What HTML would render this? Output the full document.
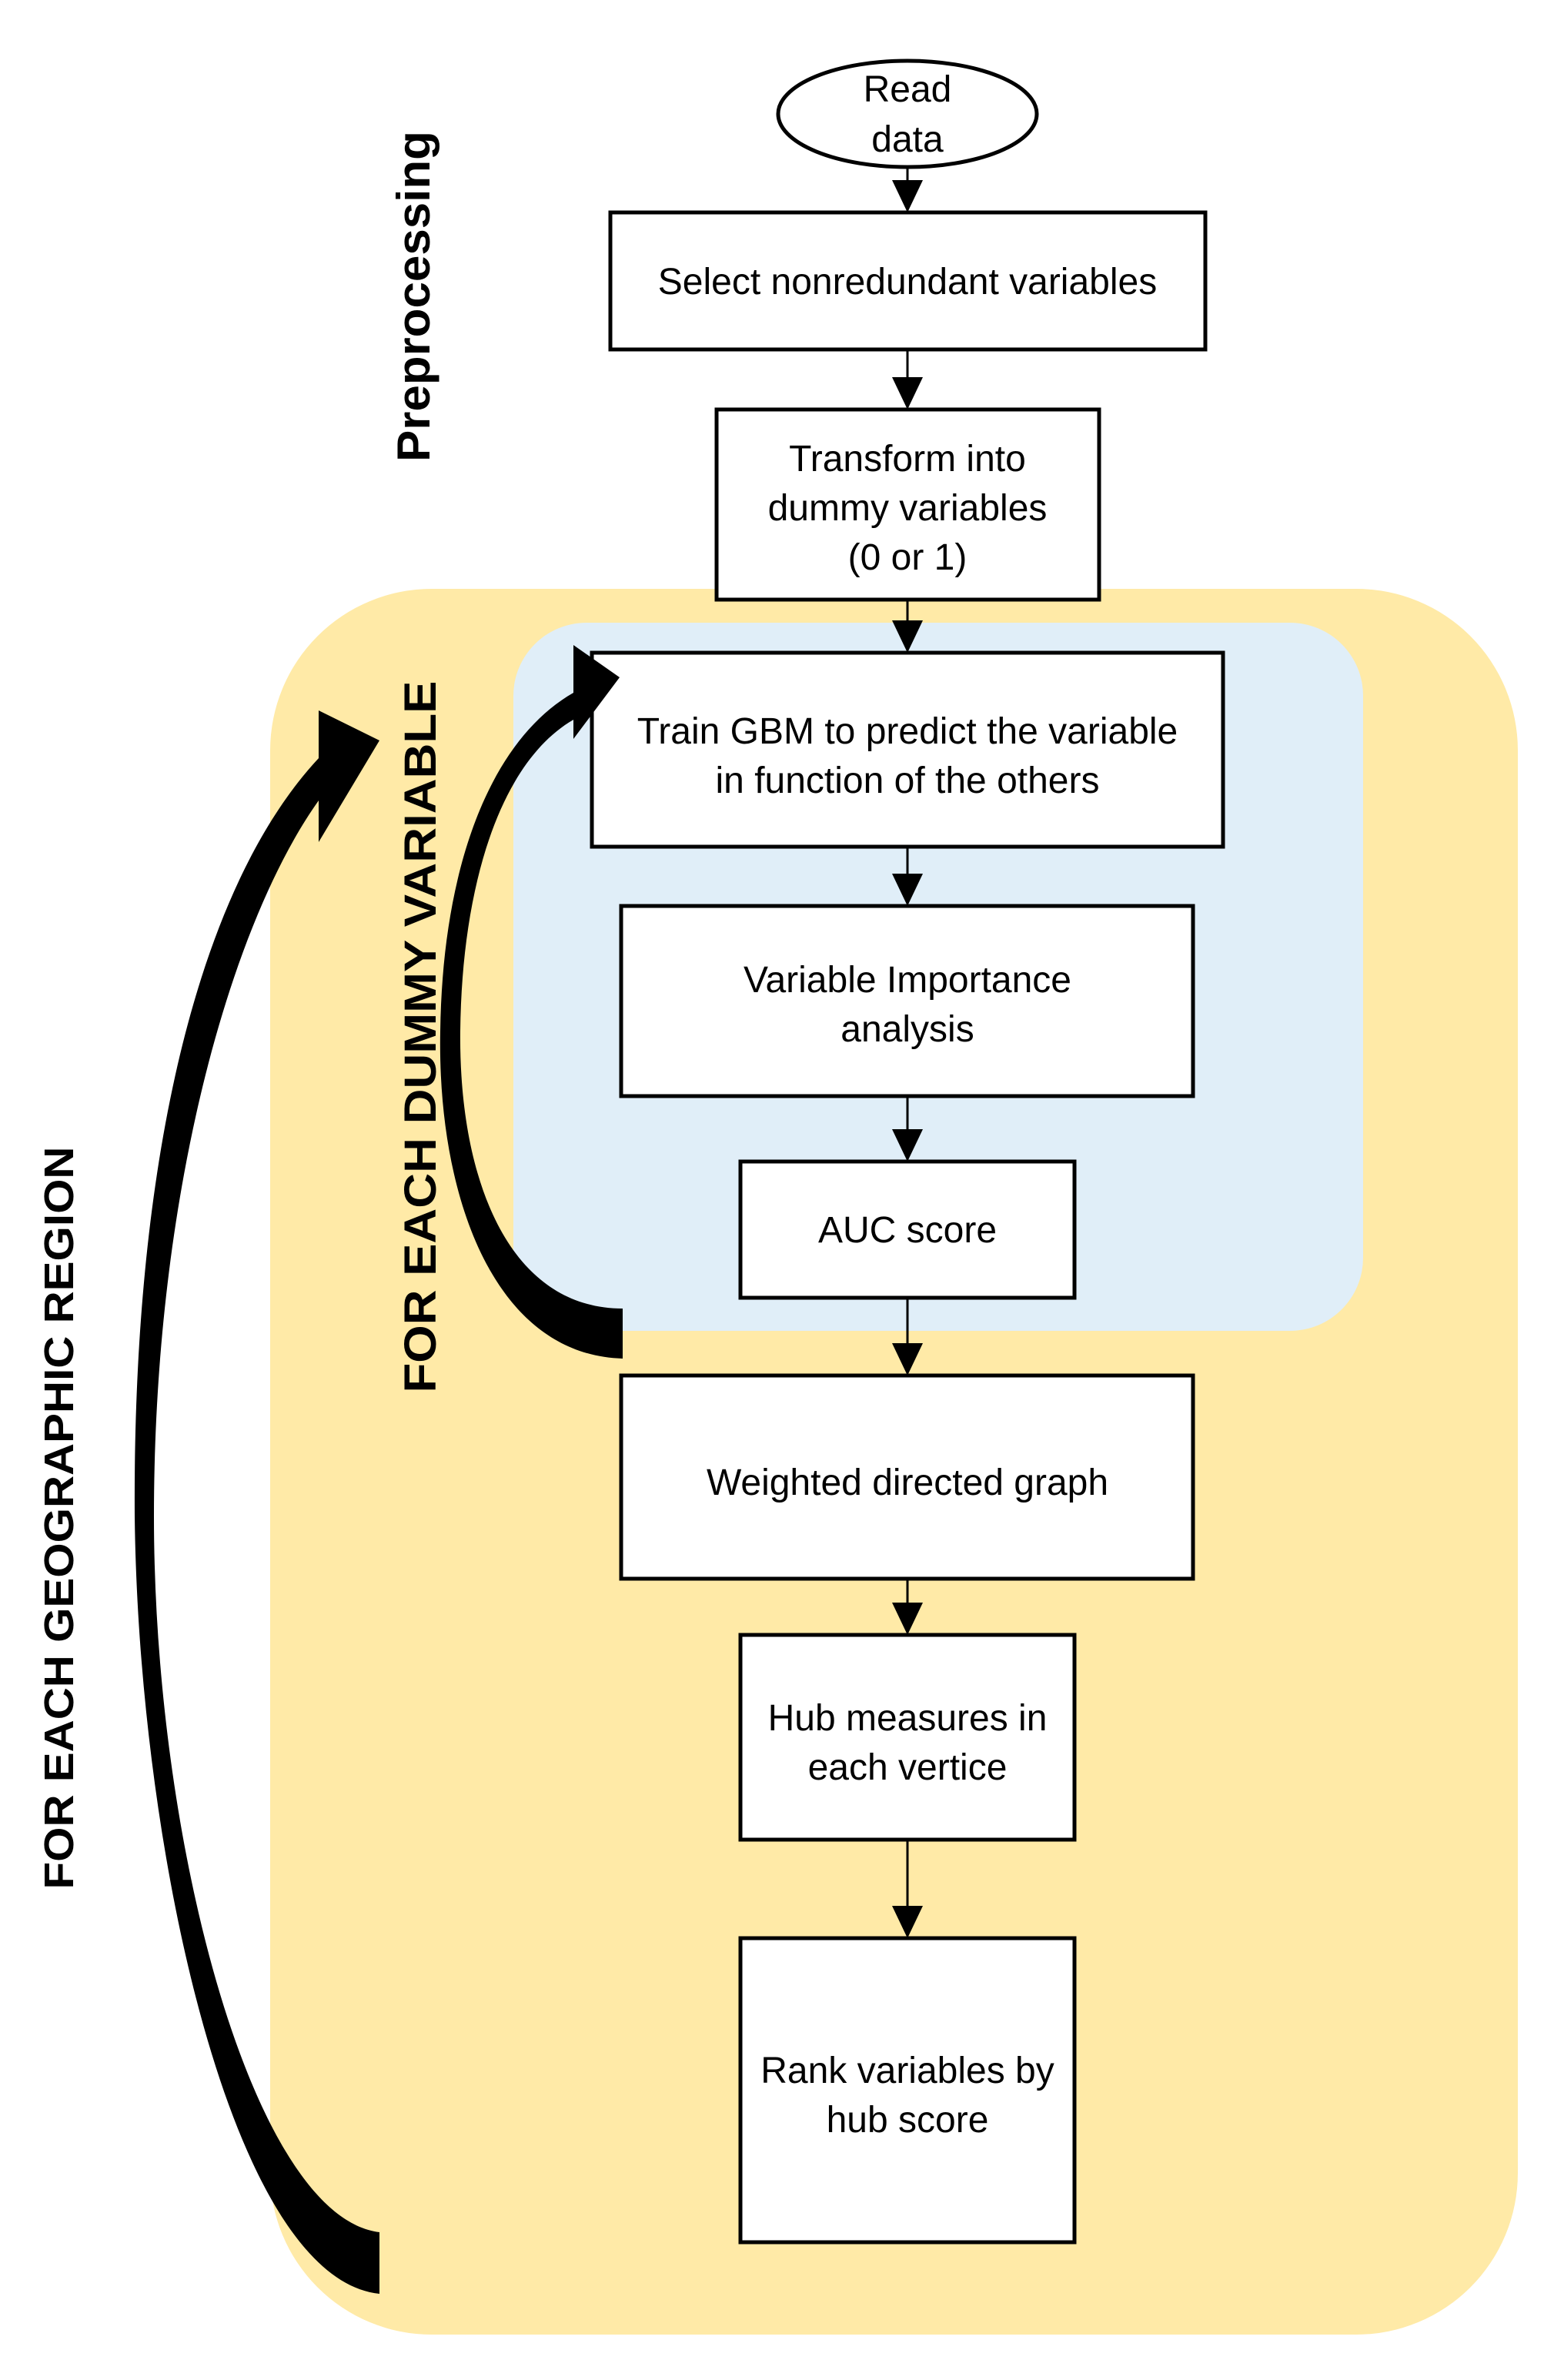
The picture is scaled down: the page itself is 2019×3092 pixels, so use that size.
<!DOCTYPE html>
<html><head><meta charset="utf-8"><style>
html,body{margin:0;padding:0;background:#fff;}
svg{display:block;}
text{font-family:"Liberation Sans",sans-serif;}
</style></head><body>
<svg width="2019" height="3092" viewBox="0 0 2019 3092" xmlns="http://www.w3.org/2000/svg">
<!-- yellow region -->
<rect x="351" y="765" width="1621" height="2268" rx="210" ry="210" fill="#ffeaa7"/>
<!-- blue region -->
<rect x="667" y="809" width="1104" height="920" rx="95" ry="95" fill="#e0eef8"/>

<!-- connectors -->
<g stroke="#000" stroke-width="3" fill="#000">
<line x1="1179" y1="217" x2="1179" y2="240"/><polygon points="1159,234 1199,234 1179,276" stroke="none"/>
<line x1="1179" y1="454" x2="1179" y2="496"/><polygon points="1159,490 1199,490 1179,532" stroke="none"/>
<line x1="1179" y1="779" x2="1179" y2="812"/><polygon points="1159,806 1199,806 1179,848" stroke="none"/>
<line x1="1179" y1="1100" x2="1179" y2="1141"/><polygon points="1159,1135 1199,1135 1179,1177" stroke="none"/>
<line x1="1179" y1="1424" x2="1179" y2="1473"/><polygon points="1159,1467 1199,1467 1179,1509" stroke="none"/>
<line x1="1179" y1="1686" x2="1179" y2="1751"/><polygon points="1159,1745 1199,1745 1179,1787" stroke="none"/>
<line x1="1179" y1="2051" x2="1179" y2="2088"/><polygon points="1159,2082 1199,2082 1179,2124" stroke="none"/>
<line x1="1179" y1="2390" x2="1179" y2="2482"/><polygon points="1159,2476 1199,2476 1179,2518" stroke="none"/>
</g>

<!-- nodes -->
<g stroke="#000" stroke-width="5" fill="#fff">
<ellipse cx="1179" cy="148" rx="168" ry="69"/>
<rect x="793" y="276" width="773" height="178"/>
<rect x="931" y="532" width="497" height="247"/>
<rect x="769" y="848" width="820" height="252"/>
<rect x="807" y="1177" width="743" height="247"/>
<rect x="962" y="1509" width="434" height="177"/>
<rect x="807" y="1787" width="743" height="264"/>
<rect x="962" y="2124" width="434" height="266"/>
<rect x="962" y="2518" width="434" height="395"/>
</g>

<g font-size="48" text-anchor="middle" fill="#000">
<text x="1179" y="132">Read</text>
<text x="1179" y="197">data</text>
<text x="1179" y="382">Select nonredundant variables</text>
<text x="1179" y="612">Transform into</text>
<text x="1179" y="676">dummy variables</text>
<text x="1179" y="740">(0 or 1)</text>
<text x="1179" y="966">Train GBM to predict the variable</text>
<text x="1179" y="1030">in function of the others</text>
<text x="1179" y="1289">Variable Importance</text>
<text x="1179" y="1353">analysis</text>
<text x="1179" y="1614">AUC score</text>
<text x="1179" y="1942">Weighted directed graph</text>
<text x="1179" y="2248">Hub measures in</text>
<text x="1179" y="2312">each vertice</text>
<text x="1179" y="2706">Rank variables by</text>
<text x="1179" y="2770">hub score</text>
</g>

<!-- rotated labels -->
<text transform="translate(558,385) rotate(-90)" font-size="60" font-weight="bold" text-anchor="middle" textLength="430" lengthAdjust="spacingAndGlyphs">Preprocessing</text>
<text transform="translate(566,1347) rotate(-90)" font-size="58" font-weight="bold" text-anchor="middle" textLength="925" lengthAdjust="spacingAndGlyphs">FOR EACH DUMMY VARIABLE</text>
<text transform="translate(95,1972) rotate(-90)" font-size="54" font-weight="bold" text-anchor="middle" textLength="965" lengthAdjust="spacingAndGlyphs">FOR EACH GEOGRAPHIC REGION</text>

<!-- big curved arrows -->
<path fill="#000" d="M809,1765 C640,1760 568,1550 572,1340 C575,1120 640,960 745,900 L745,838 L805,880 L745,960 L745,935 C650,990 600,1150 598,1340 C596,1530 660,1700 809,1700 Z"/>
<path fill="#000" d="M493,2980 C300,2960 180,2400 175,1970 C172,1500 260,1150 414,985 L414,923 L493,962 L414,1094 L414,1040 C300,1200 200,1550 200,1970 C200,2400 330,2880 493,2900 Z"/>
</svg>
</body></html>
